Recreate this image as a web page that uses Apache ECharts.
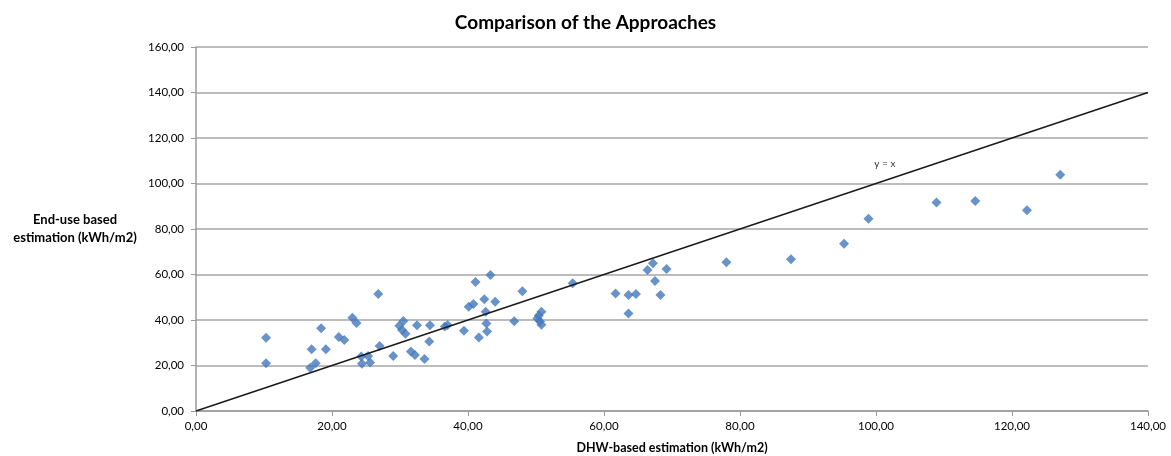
<!DOCTYPE html>
<html>
<head>
<meta charset="utf-8">
<script src="https://cdn.jsdelivr.net/npm/echarts@6/dist/echarts.min.js"></script>
<style>
    html, body {margin: 0; padding: 0; background: #ffffff;}
    #main {width: 1171px; height: 456px;}
</style>
</head>
<body>
<div id="main"></div>
<script>
// DHW-based (x) 和 End-use based (y) 估算值
var dhwValues = [
    10.3, 10.3, 16.8, 17.6, 17.0, 18.4, 19.1, 21.0, 21.8, 23.0,
    23.6, 26.8, 24.3, 25.3, 24.4, 25.6, 27.0, 29.0, 29.9, 30.5,
    30.3, 30.8, 32.5, 34.4, 34.3, 31.6, 32.2, 33.6, 36.6, 37.0,
    39.4, 40.1, 40.8, 41.1, 42.4, 42.6, 42.7, 42.8, 41.6, 43.3,
    44.0, 46.8, 48.0, 50.8, 50.4, 50.2, 50.6, 50.8, 55.4, 61.7,
    63.6, 64.7, 63.6, 66.4, 67.2, 67.5, 68.3, 69.2, 78.0, 87.5,
    95.3, 98.9, 108.9, 114.6, 122.2, 127.1
]
var endUseValues = [
    32.2, 21.0, 19.0, 21.0, 27.1, 36.4, 27.1, 32.5, 31.2, 41.0,
    38.7, 51.4, 24.0, 24.2, 20.8, 21.3, 28.6, 24.2, 37.5, 39.6,
    35.6, 34.0, 37.7, 37.7, 30.6, 26.1, 24.6, 22.9, 37.1, 37.8,
    35.3, 45.8, 47.0, 56.7, 49.1, 43.6, 38.5, 34.9, 32.3, 59.8,
    48.0, 39.4, 52.6, 43.6, 42.0, 40.7, 39.3, 37.9, 56.1, 51.6,
    51.0, 51.4, 42.9, 62.0, 64.9, 57.1, 51.0, 62.4, 65.4, 66.7,
    73.5, 84.5, 91.7, 92.3, 88.2, 103.9
]
// y = x 参考线
var refLine = [[0, 0], [140, 140]]
var refLabel = 'y = x'
var refLabelAt = [101.3, 108.6]

var dot_data = []
for (let i = 0; i < dhwValues.length; i++) {
    dot_data.push([dhwValues[i], endUseValues[i]])
}

function fmt(v) {
    return v.toFixed(2).replace('.', ',')
}

var chartDom = document.getElementById('main');
var myChart = echarts.init(chartDom);
var option;

option = {
    animation: false,
    title: {
        text: 'Comparison of the Approaches',
        left: 'center',
        top: 8,
        textStyle: {
            color: '#000000',
            fontWeight: 'bold',
            fontFamily: 'Lato',
            fontSize: 19
        }
    },
    grid: {
        left: 196,
        right: 23,
        top: 47,
        bottom: 45,
        outerBoundsMode: 'none'
    },
    xAxis: {
        type: 'value',
        min: 0,
        max: 140,
        interval: 20,
        name: 'DHW-based estimation (kWh/m2)',
        nameLocation: 'middle',
        nameGap: 30,
        nameTextStyle: {
            color: '#000000',
            fontWeight: 'bold',
            fontFamily: 'Lato',
            fontSize: 12.5
        },
        axisLine: {
            lineStyle: {color: '#9a9a9a', width: 1.5}
        },
        axisTick: {
            show: true,
            length: 5,
            lineStyle: {color: '#9a9a9a'}
        },
        axisLabel: {
            color: '#000000',
            fontFamily: 'Lato',
            fontSize: 11.5,
            margin: 9,
            formatter: fmt
        },
        splitLine: {show: false}
    },
    yAxis: {
        type: 'value',
        min: 0,
        max: 160,
        interval: 20,
        name: 'End-use based\nestimation (kWh/m2)',
        nameLocation: 'middle',
        nameRotate: 0,
        nameGap: 121,
        nameTextStyle: {
            color: '#000000',
            fontWeight: 'bold',
            fontFamily: 'Lato',
            fontSize: 13,
            align: 'center',
            lineHeight: 18,
            padding: [5, 0, 0, 0]
        },
        axisLine: {
            show: true,
            lineStyle: {color: '#9a9a9a', width: 1.5}
        },
        axisTick: {
            show: true,
            length: 5,
            lineStyle: {color: '#9a9a9a'}
        },
        axisLabel: {
            color: '#000000',
            fontFamily: 'Lato',
            fontSize: 11.5,
            margin: 12,
            formatter: fmt
        },
        splitLine: {
            show: true,
            lineStyle: {color: '#a6a6a6', width: 1.5}
        }
    },
    series: [
        {
            type: 'line',
            data: refLine,
            symbol: 'none',
            silent: true,
            lineStyle: {color: '#1a1a1a', width: 1.5},
            markPoint: {
                symbol: 'circle',
                symbolSize: 0,
                data: [{
                    coord: refLabelAt,
                    label: {
                        show: true,
                        formatter: refLabel,
                        color: '#333333',
                        fontFamily: 'Lato',
                        fontSize: 10
                    }
                }]
            }
        },
        {
            type: 'scatter',
            data: dot_data,
            symbol: 'diamond',
            symbolSize: 10,
            itemStyle: {color: '#4278bd'}
        }
    ]
};

option && myChart.setOption(option);
</script>
</body>
</html>
